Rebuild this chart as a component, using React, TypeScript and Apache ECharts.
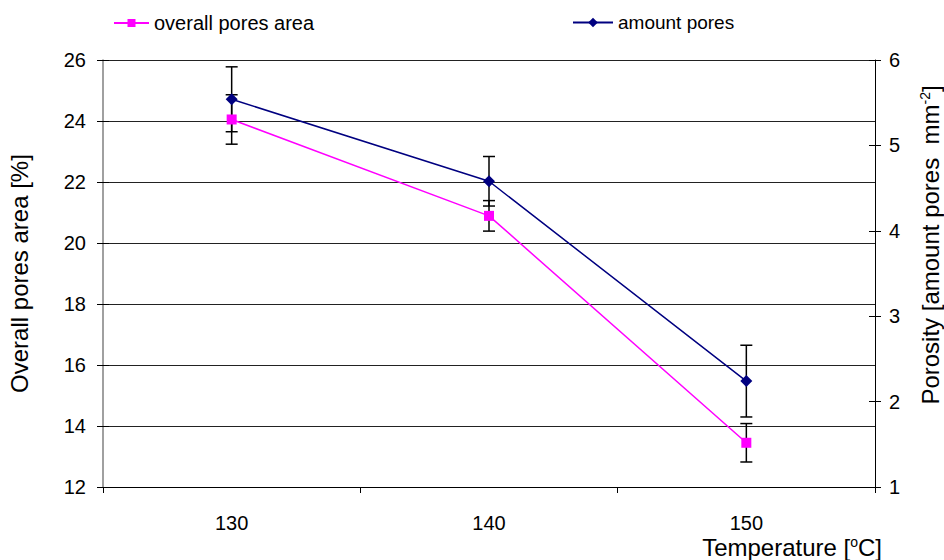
import React, { useEffect, useRef } from "react";
import * as echarts from "echarts";

const categories = ["130", "140", "150"];
const poresArea = [24.05, 20.89, 13.45];
const poresAreaErr = [0.81, 0.5, 0.63];
const amountPores = [5.54, 4.58, 2.24];
const amountPoresErr = [0.38, 0.29, 0.42];

const FONT = "Liberation Sans";

function errData(vals: number[], errs: number[]) {
  return vals.map((v, i) => [i, v - errs[i], v + errs[i]]);
}

function renderErr(params: any, api: any) {
  const x = api.value(0);
  const lo = api.coord([x, api.value(1)]);
  const hi = api.coord([x, api.value(2)]);
  const half = 6;
  const style = { stroke: "#000", lineWidth: 1.5 };
  return {
    type: "group",
    children: [
      { type: "line", shape: { x1: lo[0], y1: lo[1], x2: hi[0], y2: hi[1] }, style },
      { type: "line", shape: { x1: lo[0] - half, y1: lo[1], x2: lo[0] + half, y2: lo[1] }, style },
      { type: "line", shape: { x1: hi[0] - half, y1: hi[1], x2: hi[0] + half, y2: hi[1] }, style },
    ],
  };
}

export default function App() {
  const ref = useRef<HTMLDivElement>(null);
  useEffect(() => {
    document.body.style.margin = "0";
    document.body.style.overflow = "hidden";
    const chart = echarts.init(ref.current!, null, { renderer: "svg", width: 944, height: 560 });
    const label = { fontFamily: FONT, fontSize: 20, color: "#000" };
    const titleSize = 24;
    const richSup = {
      a: { fontFamily: FONT, fontSize: titleSize, fill: "#000", color: "#000", lineHeight: 24, verticalAlign: "bottom" },
      s: { fontFamily: FONT, fontSize: 14, fill: "#000", color: "#000", lineHeight: 24, verticalAlign: "top", padding: [0, 0, 9, 0] },
    };
    chart.setOption({
      animation: false,
      textStyle: { fontFamily: FONT },
      grid: { left: 103, right: 69, top: 60, bottom: 73, outerBoundsMode: "none", containLabel: false },
      legend: [
        {
          left: 108,
          top: 8,
          itemWidth: 35,
          itemHeight: 10,
          textStyle: { fontFamily: FONT, fontSize: 20, color: "#000" },
          data: ["overall pores area"],
        },
        {
          left: 567,
          top: 8,
          itemWidth: 40,
          itemHeight: 12,
          textStyle: { fontFamily: FONT, fontSize: 19, color: "#000" },
          data: ["amount pores"],
        },
      ],
      xAxis: {
        type: "category",
        data: categories,
        boundaryGap: true,
        axisLine: { lineStyle: { color: "#000", width: 1 } },
        axisTick: { show: true, length: 6, alignWithLabel: false, lineStyle: { color: "#000" } },
        axisLabel: { ...label, margin: 26 },
        splitLine: { show: false },
      },
      yAxis: [
        {
          type: "value",
          position: "left",
          min: 12,
          max: 26,
          interval: 2,
          name: "Overall pores area [%]",
          nameLocation: "middle",
          nameRotate: 90,
          nameGap: 72,
          nameTextStyle: { fontFamily: FONT, fontSize: titleSize, color: "#000" },
          axisLine: { show: true, lineStyle: { color: "#808080", width: 1.5 } },
          axisTick: { show: true, length: 6, lineStyle: { color: "#000" } },
          axisLabel: { ...label, margin: 17 },
          splitLine: { show: true, lineStyle: { color: "#222", width: 1 } },
        },
        {
          type: "value",
          position: "right",
          min: 1,
          max: 6,
          interval: 1,
          axisLine: { show: true, lineStyle: { color: "#000", width: 1 } },
          axisTick: { show: true, length: 6, lineStyle: { color: "#000" } },
          axisLabel: { ...label, margin: 14 },
          splitLine: { show: false },
        },
        {
          type: "value",
          position: "left",
          min: 12,
          max: 26,
          interval: 2,
          axisLine: { show: false },
          axisTick: { show: true, inside: true, length: 6, lineStyle: { color: "#000" } },
          axisLabel: { show: false },
          splitLine: { show: false },
        },
        {
          type: "value",
          position: "right",
          min: 1,
          max: 6,
          interval: 1,
          axisLine: { show: false },
          axisTick: { show: true, inside: true, length: 6, lineStyle: { color: "#000" } },
          axisLabel: { show: false },
          splitLine: { show: false },
        },
      ],
      graphic: [
        {
          type: "text",
          right: 62,
          top: 535,
          style: {
            text: "{a|Temperature [}{s|o}{a|C]}",
            fill: "#000",
            rich: richSup,
          },
        },
        {
          type: "text",
          x: 930,
          y: 245,
          rotation: Math.PI / 2,
          style: {
            text: "{a|Porosity [amount pores  mm}{s|-2}{a|]}",
            fill: "#000",
            align: "center",
            verticalAlign: "middle",
            rich: richSup,
          },
        },
      ],
      series: [
        {
          type: "custom",
          name: "errA",
          yAxisIndex: 0,
          renderItem: renderErr,
          data: errData(poresArea, poresAreaErr),
          z: 1,
          silent: true,
        },
        {
          type: "custom",
          name: "errB",
          yAxisIndex: 1,
          renderItem: renderErr,
          data: errData(amountPores, amountPoresErr),
          z: 1,
          silent: true,
        },
        {
          type: "line",
          name: "overall pores area",
          yAxisIndex: 0,
          data: poresArea,
          symbol: "rect",
          symbolSize: 10,
          itemStyle: { color: "#FF00FF" },
          lineStyle: { color: "#FF00FF", width: 1.5 },
          z: 3,
        },
        {
          type: "line",
          name: "amount pores",
          yAxisIndex: 1,
          data: amountPores,
          symbol: "diamond",
          symbolSize: 12,
          itemStyle: { color: "#000080" },
          lineStyle: { color: "#000080", width: 1.5 },
          z: 4,
        },
      ],
    });
    return () => chart.dispose();
  }, []);
  return (
    <div
      ref={ref}
      style={{ position: "absolute", left: 0, top: 0, width: 944, height: 560 }}
    />
  );
}
